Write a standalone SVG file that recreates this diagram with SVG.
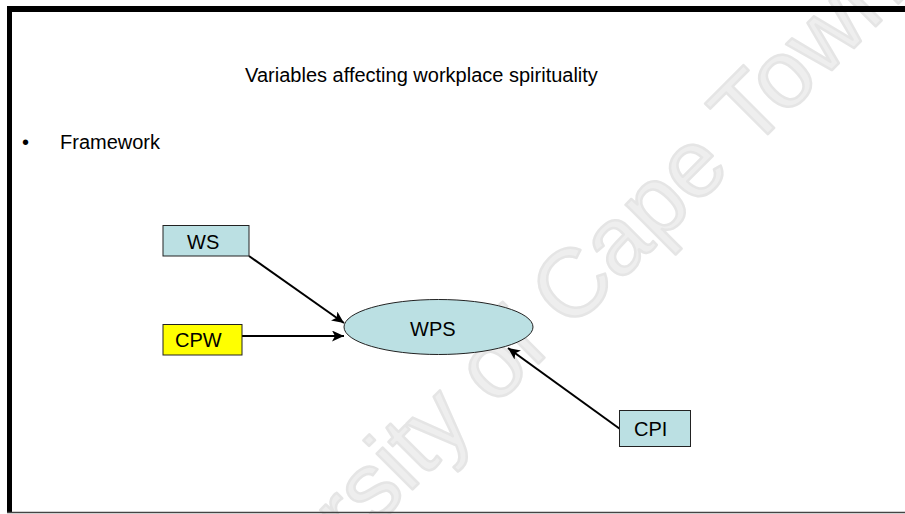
<svg xmlns="http://www.w3.org/2000/svg" width="905" height="514" viewBox="0 0 905 514">
  <style>
    .t { font-family: "Liberation Sans", Arial, sans-serif; font-size: 20px; fill: #000; }
    .box { fill: #BBE0E3; stroke: #222; stroke-width: 1; }
    .yel { fill: #FFFF00; stroke: #222; stroke-width: 1; }
    .conn { stroke: #000; stroke-width: 2; fill: none; marker-end: url(#arr); }
    .wm { font-family: "Liberation Sans", Arial, sans-serif; font-size: 96px; fill: #eeeeee; stroke: #e5e5e5; stroke-width: 2.5; stroke-linejoin: round; }
  </style>
  <defs>
    <marker id="arr" markerUnits="userSpaceOnUse" markerWidth="13" markerHeight="11" refX="12" refY="5.5" orient="auto">
      <path d="M0,0 L12,5.5 L0,11 L3,5.5 Z" fill="#000"/>
    </marker>
  </defs>
  <rect x="0" y="0" width="905" height="514" fill="#fff"/>
  <text class="wm" transform="translate(178,724) rotate(-45)">University of Cape Town</text>

  <g id="frame">
    <rect x="7" y="6" width="898" height="6" fill="#000"/>
    <rect x="7" y="6" width="5" height="507" fill="#000"/>
    <line x1="7" y1="512.5" x2="905" y2="512.5" stroke="#444" stroke-width="1.5"/>
  </g>

  <g id="title">
    <text class="t" x="421.5" y="82" text-anchor="middle">Variables affecting workplace spirituality</text>
  </g>
  <g id="bullet">
    <text class="t" x="22" y="149">•</text>
    <text class="t" x="60" y="149">Framework</text>
  </g>

  <g id="connectors">
    <path class="conn" d="M249,256 L344,323"/>
    <path class="conn" d="M242,336 L344,336"/>
    <path class="conn" d="M620,429 L508,348"/>
  </g>

  <g id="node-ws">
    <rect class="box" x="163" y="225.5" width="86" height="30.5"/>
    <text class="t" x="187" y="249">WS</text>
  </g>
  <g id="node-cpw">
    <rect class="yel" x="163" y="324.5" width="79" height="30.5"/>
    <text class="t" x="175" y="347">CPW</text>
  </g>
  <g id="node-wps">
    <ellipse class="box" cx="438.5" cy="327" rx="94.5" ry="27.5"/>
    <text class="t" x="410" y="336">WPS</text>
  </g>
  <g id="node-cpi">
    <rect class="box" x="619.5" y="410.5" width="71" height="36"/>
    <text class="t" x="634" y="436">CPI</text>
  </g>
</svg>
